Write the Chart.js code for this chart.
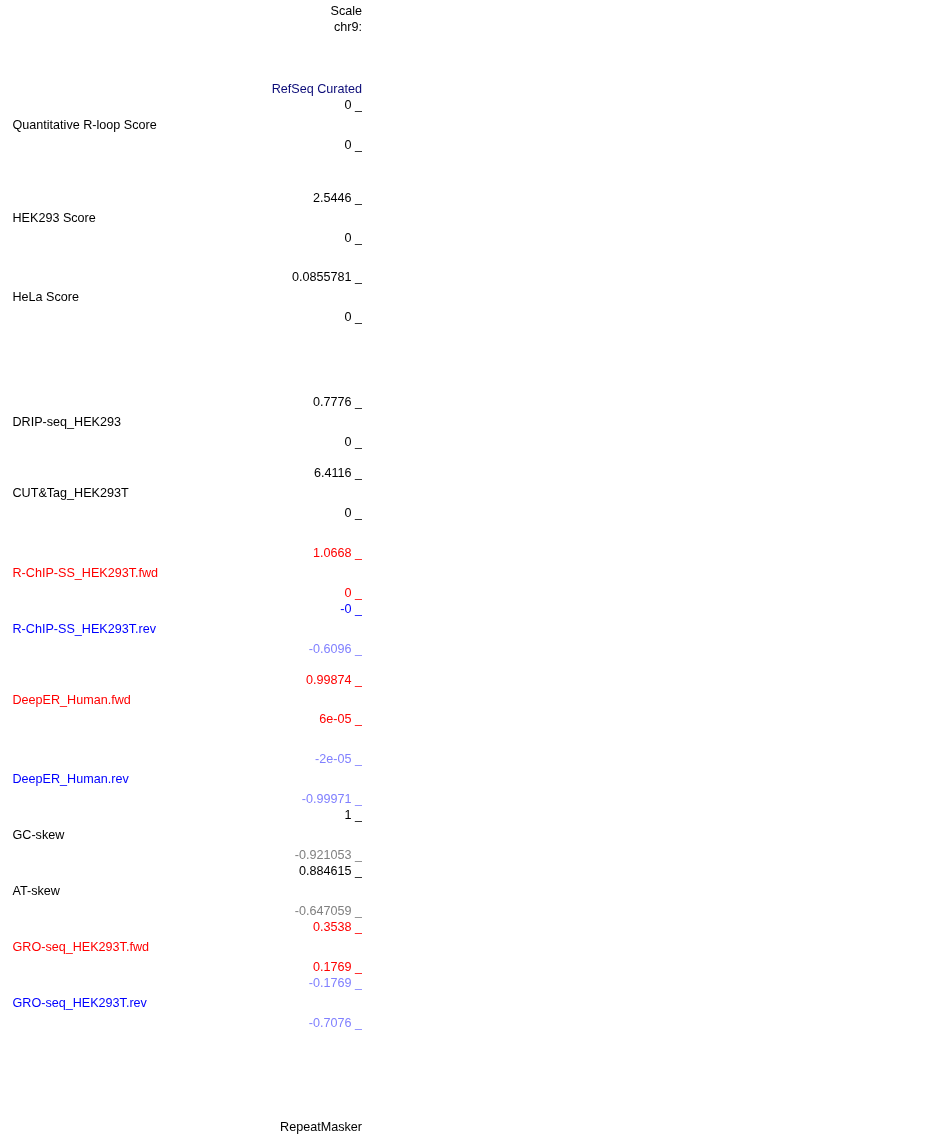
<!DOCTYPE html>
<html>
<head>
<meta charset="utf-8">
<script src="https://cdn.jsdelivr.net/npm/chart.js@4.4.1/dist/chart.umd.min.js"></script>
<style>
  html, body { margin: 0; padding: 0; background: #ffffff; }
  #c { display: block; }
</style>
</head>
<body>
<canvas id="c" width="950" height="1137" style="width:950px;height:1137px"></canvas>
<script>
// ---------------- data ----------------
const headerLabels = ["Scale", "chr9:", "RefSeq Curated"];
const footerLabel = "RepeatMasker";
const trackNames = [
  "Quantitative R-loop Score", "HEK293 Score", "HeLa Score", "DRIP-seq_HEK293",
  "CUT&Tag_HEK293T", "R-ChIP-SS_HEK293T.fwd", "R-ChIP-SS_HEK293T.rev",
  "DeepER_Human.fwd", "DeepER_Human.rev", "GC-skew", "AT-skew",
  "GRO-seq_HEK293T.fwd", "GRO-seq_HEK293T.rev"
];
const trackMaxLabels = ["0", "2.5446", "0.0855781", "0.7776", "6.4116", "1.0668", "-0",
  "0.99874", "-2e-05", "1", "0.884615", "0.3538", "-0.1769"];
const trackMinLabels = ["0", "0", "0", "0", "0", "0", "-0.6096",
  "6e-05", "-0.99971", "-0.921053", "-0.647059", "0.1769", "-0.7076"];

// ---------------- styles ----------------
const BLACK = "#000000", RED = "#ff0000", BLUE = "#0000ff", LBLUE = "#8080ff", GRAY = "#808080", NAVY = "#0c0c78";
const headerColors = [BLACK, BLACK, NAVY];
const nameColors = [BLACK, BLACK, BLACK, BLACK, BLACK, RED, BLUE, RED, BLUE, BLACK, BLACK, RED, BLUE];
const maxColors  = [BLACK, BLACK, BLACK, BLACK, BLACK, RED, BLUE, RED, LBLUE, BLACK, BLACK, RED, LBLUE];
const minColors  = [BLACK, BLACK, BLACK, BLACK, BLACK, RED, LBLUE, RED, LBLUE, GRAY, GRAY, RED, LBLUE];
const FONT_SIZE = 12.6;
const FONT_FAMILY = '"Liberation Sans", Arial, Helvetica, sans-serif';

// ---------------- layout (segment heights, px) ----------------
const headerHeights = [16, 62, 16];
const trackHeights = [40, 40, 40, 40, 40, 40, 40, 39, 40, 40, 40, 40, 40];
const gapsAfter    = [53, 39, 85, 31, 40, 16, 31, 40, 16, 16, 16, 16, 0];
const footerHeight = 104;

// ---------------- build rows / scales ----------------
const rows = [];
headerLabels.forEach((t, i) => rows.push({ kind: "label", text: t, color: headerColors[i], h: headerHeights[i], at: "top" }));
trackNames.forEach((n, i) => {
  rows.push({ kind: "track", i: i, h: trackHeights[i] });
  if (gapsAfter[i]) rows.push({ kind: "gap", h: gapsAfter[i] });
});
rows.push({ kind: "label", text: footerLabel, color: BLACK, h: footerHeight, at: "bottom" });

const N = rows.length;
const scales = { x: { type: "linear", display: false } };
rows.forEach((r, k) => {
  const s = {
    type: "linear", position: "left", stack: "tracks", stackWeight: r.h, weight: N - k,
    display: true,
    grid: { display: false, drawTicks: false },
    border: { display: false },
    ticks: { padding: 0, autoSkip: false, font: { size: FONT_SIZE, family: FONT_FAMILY } },
    afterFit: ax => { ax.width = 352; }
  };
  if (r.kind === "gap") {
    s.min = 0; s.max = 1; s.ticks.display = false;
  } else if (r.kind === "label") {
    const v = r.at === "top" ? 1 : 0;
    s.min = 0; s.max = 1;
    s.afterBuildTicks = ax => { ax.ticks = [{ value: v }]; };
    s.ticks.callback = () => r.text;
    s.ticks.color = r.color;
  } else {
    const lo = parseFloat(trackMinLabels[r.i]);
    let hi = parseFloat(trackMaxLabels[r.i]);
    if (!(hi > lo)) hi = lo + 1;
    s.min = lo; s.max = hi;
    s.afterBuildTicks = ax => { ax.ticks = [{ value: lo }, { value: hi }]; };
    s.ticks.callback = (val, idx) => (idx === 0 ? trackMinLabels[r.i] : trackMaxLabels[r.i]) + " _";
    s.ticks.color = c => (c.index === 0 ? minColors[r.i] : maxColors[r.i]);
  }
  scales["y" + k] = s;
});

const trackNamePlugin = {
  id: "trackNames",
  afterDraw(chart) {
    const ctx = chart.ctx;
    ctx.save();
    ctx.font = FONT_SIZE + "px " + FONT_FAMILY;
    ctx.textAlign = "left";
    ctx.textBaseline = "middle";
    rows.forEach((r, k) => {
      if (r.kind !== "track") return;
      const ax = chart.scales["y" + k];
      const yTop = ax.getPixelForValue(ax.max);
      const yBot = ax.getPixelForValue(ax.min);
      ctx.fillStyle = nameColors[r.i];
      ctx.fillText(trackNames[r.i], 12.5, (yTop + yBot) / 2 - 0.3);
    });
    ctx.restore();
  }
};

new Chart(document.getElementById("c"), {
  type: "scatter",
  data: { datasets: [] },
  options: {
    responsive: false,
    animation: false,
    layout: { padding: { top: 12, bottom: 9, left: 10, right: 0 } },
    plugins: { legend: { display: false }, tooltip: { enabled: false } },
    scales: scales
  },
  plugins: [trackNamePlugin]
});
</script>
</body>
</html>
